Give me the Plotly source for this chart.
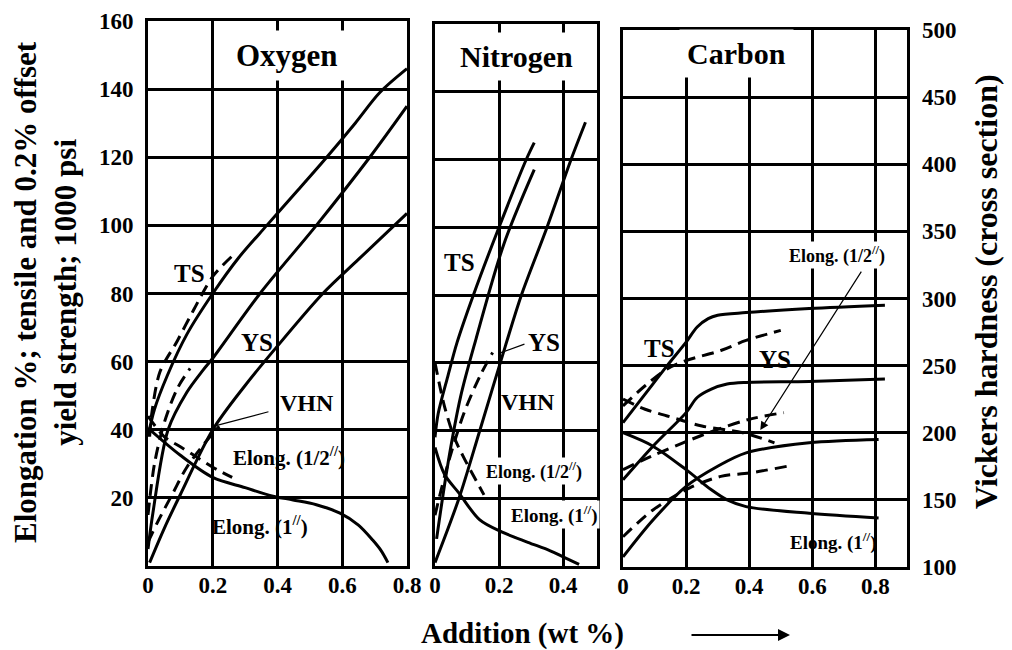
import plotly.graph_objects as go

W, H = 1012, 650
FONT = "Liberation Serif"

# ---------------- data (x = addition, wt %) ----------------
# Strength (1000 psi) / elongation (%) on left scale; VHN in Vickers units (right scale)
# Oxygen
o_ts_x = [0.0, 0.02, 0.06, 0.12, 0.2, 0.28, 0.367, 0.46, 0.552, 0.64, 0.716, 0.8]
o_ts_y = [38, 46, 56, 68, 80, 90.5, 100, 110, 120, 130, 139, 146]
o_tsd_x = [0.005, 0.012, 0.037, 0.09, 0.14, 0.2, 0.26]
o_tsd_y = [38, 45, 57, 66, 75, 85, 91]
o_ys_x = [0.0, 0.015, 0.062, 0.12, 0.17, 0.2, 0.346, 0.52, 0.685, 0.8]
o_ys_y = [5, 15.5, 40, 51, 57.5, 61, 80, 100, 120, 135]
o_ysd_x = [0.0, 0.02, 0.05, 0.09, 0.13]
o_ysd_y = [15, 30, 42, 52, 58]
o_vhn_x = [0.005, 0.05, 0.1, 0.2, 0.3, 0.386, 0.54, 0.65, 0.8]
o_vhn_h = [102.5, 127.5, 152.5, 200, 232.5, 257.5, 300, 325, 358.75]
o_vhnd_x = [0.0, 0.028, 0.077, 0.12, 0.19, 0.22]
o_vhnd_h = [117.5, 131.5, 153.5, 172.5, 194.5, 202.5]
o_elh_x = [0.0, 0.05, 0.1, 0.15, 0.2, 0.26]
o_elh_y = [44, 38, 35, 32, 29, 26]
o_el1_x = [0.0, 0.1, 0.2, 0.3, 0.386, 0.448, 0.52, 0.593, 0.65, 0.694, 0.72, 0.741]
o_el1_y = [40.5, 32.5, 26, 23, 20.5, 19.4, 18, 15.5, 12, 7.6, 4.5, 1]

# Nitrogen
n_ts_x = [0.0, 0.01, 0.04, 0.069, 0.12, 0.2, 0.285, 0.31]
n_ts_y = [38, 45, 56, 66, 80, 100, 120, 125]
n_ys_x = [0.005, 0.04, 0.08, 0.128, 0.215, 0.31]
n_ys_y = [8, 30, 50, 67, 95, 117]
n_ysd_x = [0.0, 0.04, 0.09, 0.14, 0.18]
n_ysd_y = [15, 30, 45, 56, 63]
n_vhn_x = [0.0, 0.075, 0.14, 0.22, 0.27, 0.35, 0.425, 0.47]
n_vhn_h = [102.5, 150, 200, 262.5, 300, 350, 400, 427.5]
n_elh_x = [0.0, 0.03, 0.06, 0.09, 0.153]
n_elh_y = [60, 47, 38, 32, 21]
n_el1_x = [0.0, 0.03, 0.075, 0.14, 0.21, 0.29, 0.36, 0.4, 0.45]
n_el1_y = [35, 27, 21.5, 13.6, 10, 7, 4.5, 2.7, 0.5]

# Carbon
c_ts_x = [0.0, 0.07, 0.14, 0.2, 0.235, 0.27, 0.3, 0.39, 0.59, 0.83]
c_ts_y = [43, 51.5, 60, 67, 71.5, 74, 75, 75.8, 77, 78]
c_tsd_x = [0.0, 0.07, 0.14, 0.2, 0.31, 0.39, 0.5]
c_tsd_y = [48, 54, 59, 61.5, 64.5, 67.5, 70.5]
c_ys_x = [0.0, 0.095, 0.2, 0.235, 0.28, 0.33, 0.39, 0.59, 0.83]
c_ys_y = [26, 36, 46, 50.5, 53, 54.5, 55, 55.3, 56]
c_ysd_x = [0.0, 0.09, 0.19, 0.3, 0.4, 0.51]
c_ysd_y = [29, 33, 37, 41, 44, 46]
c_vhn_x = [0.0, 0.095, 0.2, 0.3, 0.39, 0.59, 0.81]
c_vhn_h = [107.5, 135, 160, 175, 185, 192.5, 195]
c_vhnd_x = [0.0, 0.095, 0.21, 0.31, 0.4, 0.52]
c_vhnd_h = [122.5, 142.5, 158.75, 167.5, 170, 175]
c_elh_x = [0.0, 0.07, 0.14, 0.25, 0.38, 0.48]
c_elh_y = [50, 47, 45, 42, 40, 37]
c_el1_x = [0.0, 0.095, 0.2, 0.28, 0.33, 0.39, 0.59, 0.81]
c_el1_y = [40, 36, 29, 23, 20, 18, 16, 14.6]

left_ticks = [20, 40, 60, 80, 100, 120, 140, 160]
hard_ticks = [100, 150, 200, 250, 300, 350, 400, 450, 500]
o_xticks = [0, 0.2, 0.4, 0.6, 0.8]
n_xticks = [0, 0.2, 0.4]
c_xticks = [0, 0.2, 0.4, 0.6, 0.8]

# ---------------- figure ----------------
fig = go.Figure()

def add(x, y, xa, ya, dash=False, name=""):
    fig.add_trace(go.Scatter(
        x=x, y=y, xaxis=xa, yaxis=ya, mode="lines", name=name,
        line=dict(color="black", width=3, shape="spline", smoothing=0.9,
                  dash="12px,7px" if dash else "solid"),
        showlegend=False, hoverinfo="skip"))

# Oxygen
add(o_ts_x, o_ts_y, "x", "y", name="TS")
add(o_tsd_x, o_tsd_y, "x", "y", True, "TS 1/2")
add(o_ys_x, o_ys_y, "x", "y", name="YS")
add(o_ysd_x, o_ysd_y, "x", "y", True, "YS 1/2")
add(o_vhn_x, o_vhn_h, "x", "y5", name="VHN")
add(o_vhnd_x, o_vhnd_h, "x", "y5", True, "VHN 1/2")
add(o_elh_x, o_elh_y, "x", "y", True, "Elong 1/2")
add(o_el1_x, o_el1_y, "x", "y", name="Elong 1")
# Nitrogen
add(n_ts_x, n_ts_y, "x2", "y2", name="TS")
add(n_ys_x, n_ys_y, "x2", "y2", name="YS")
add(n_ysd_x, n_ysd_y, "x2", "y2", True, "YS 1/2")
add(n_vhn_x, n_vhn_h, "x2", "y6", name="VHN")
add(n_elh_x, n_elh_y, "x2", "y2", True, "Elong 1/2")
add(n_el1_x, n_el1_y, "x2", "y2", name="Elong 1")
# Carbon
add(c_ts_x, c_ts_y, "x3", "y3", name="TS")
add(c_tsd_x, c_tsd_y, "x3", "y3", True, "TS 1/2")
add(c_ys_x, c_ys_y, "x3", "y3", name="YS")
add(c_ysd_x, c_ysd_y, "x3", "y3", True, "YS 1/2")
add(c_vhn_x, c_vhn_h, "x3", "y4", name="VHN")
add(c_vhnd_x, c_vhnd_h, "x3", "y4", True, "VHN 1/2")
add(c_elh_x, c_elh_y, "x3", "y3", True, "Elong 1/2")
add(c_el1_x, c_el1_y, "x3", "y3", name="Elong 1")

def px_x(p):
    return p / W

def px_y(p):
    return 1 - p / H

tickfont = dict(family=FONT, size=23, color="black", weight="bold")

def xax(dom, rng, ticks, anchor):
    return dict(domain=[px_x(dom[0]), px_x(dom[1])], range=rng, anchor=anchor,
                tickvals=ticks, ticktext=[("%g" % t) for t in ticks],
                showgrid=True, gridcolor="black", gridwidth=2.5,
                showline=True, mirror=True, linecolor="black", linewidth=3,
                zeroline=False, ticks="", tickfont=tickfont,
                ticklabelstandoff=-4, automargin=False, fixedrange=True)

def yax(dom, anchor, labels=False):
    d = dict(domain=[px_y(dom[1]), px_y(dom[0])], range=[0, 160], anchor=anchor,
             tickvals=left_ticks, showgrid=True, gridcolor="black", gridwidth=2.5,
             showline=True, mirror=True, linecolor="black", linewidth=3,
             zeroline=False, ticks="", tickfont=tickfont, showticklabels=labels,
             ticklabelstandoff=7, automargin=False, fixedrange=True)
    return d

fig.update_layout(
    width=W, height=H, template="none",
    margin=dict(l=0, r=0, t=0, b=0),
    paper_bgcolor="white", plot_bgcolor="white",
    showlegend=False,
    xaxis=xax((148, 407), [0, 0.8], o_xticks, "y"),
    xaxis2=xax((435, 597), [0, 0.506], n_xticks, "y2"),
    xaxis3=xax((623, 907), [0, 0.9], c_xticks, "y3"),
    yaxis=yax((21, 566), "x", True),
    yaxis2=yax((24, 566), "x2"),
    yaxis3=yax((30, 567), "x3"),
    yaxis4=dict(overlaying="y3", anchor="x3", side="right", range=[100, 500],
                tickvals=hard_ticks, showgrid=False, zeroline=False, ticks="",
                showline=False, tickfont=tickfont, ticklabelstandoff=14,
                automargin=False, fixedrange=True),
    yaxis5=dict(overlaying="y", anchor="x", range=[100, 500], visible=False),
    yaxis6=dict(overlaying="y2", anchor="x2", range=[100, 500], visible=False),
)

def lab(text, x, y, xr, yr, size=22, bold=True, bg=None, pad=1):
    fig.add_annotation(text=text, x=x, y=y, xref=xr, yref=yr, showarrow=False,
                       xanchor="center", yanchor="middle",
                       font=dict(family=FONT, size=size, color="black",
                                 weight="bold" if bold else "normal"),
                       bgcolor=bg if bg else "rgba(0,0,0,0)", borderpad=pad)

# Panel titles
lab("Oxygen", 0.43, 150, "x", "y", 31, bg="white", pad=7)
lab("Nitrogen", 0.256, 150.5, "x2", "y2", 30, bg="white", pad=7)
lab("Carbon", 0.359, 153, "x3", "y3", 30, bg="white", pad=7)

# Oxygen labels
lab("TS", 0.127, 86, "x", "y", 25)
lab("YS", 0.336, 65.7, "x", "y", 25)
lab("VHN", 0.49, 47.8, "x", "y", 24)
lab("Elong. (1/2<sup>//</sup>)", 0.435, 32, "x", "y", 21)
lab("Elong. (1<sup>//</sup>)", 0.346, 12, "x", "y", 21)
fig.add_annotation(x=0.213, y=41.3, xref="x", yref="y", ax=53, ay=-14, text="",
                   showarrow=True, arrowhead=0, arrowwidth=1.2, arrowcolor="black")

# Nitrogen labels
lab("TS", 0.075, 89.7, "x2", "y2", 25)
lab("YS", 0.34, 66, "x2", "y2", 25)
lab("VHN", 0.29, 48.4, "x2", "y2", 24)
lab("Elong. (1/2<sup>//</sup>)", 0.31, 28, "x2", "y2", 18, bg="white")
lab("Elong. (1<sup>//</sup>)", 0.372, 15.3, "x2", "y2", 19, bg="white")
fig.add_annotation(x=0.206, y=63, xref="x2", yref="y2", ax=25, ay=-9, text="",
                   showarrow=True, arrowhead=0, arrowwidth=1.2, arrowcolor="black")

# Carbon labels
lab("TS", 0.117, 65, "x3", "y3", 25)
lab("YS", 0.483, 61.7, "x3", "y3", 25)
lab("Elong. (1/2<sup>//</sup>)", 0.679, 93, "x3", "y3", 18, bg="white")
lab("Elong. (1<sup>//</sup>)", 0.667, 7.7, "x3", "y3", 19)
fig.add_annotation(x=0.435, y=40.8, xref="x3", yref="y3", ax=102, ay=-160, text="",
                   showarrow=True, arrowhead=2, arrowsize=1.4, arrowwidth=1.2,
                   arrowcolor="black")

# Axis titles
fig.add_annotation(text="Elongation %; tensile and 0.2% offset<br>yield strength; 1000 psi",
                   x=px_x(45), y=px_y(292), xref="paper", yref="paper", showarrow=False,
                   xanchor="center", yanchor="middle", textangle=-90,
                   font=dict(family=FONT, size=31, color="black", weight="bold"))
fig.add_annotation(text="Vickers hardness (cross section)",
                   x=px_x(986), y=px_y(292), xref="paper", yref="paper", showarrow=False,
                   xanchor="center", yanchor="middle", textangle=-90,
                   font=dict(family=FONT, size=32, color="black", weight="bold"))
fig.add_annotation(text="Addition (wt %)", x=px_x(522), y=px_y(633), xref="paper", yref="paper",
                   showarrow=False, xanchor="center", yanchor="middle",
                   font=dict(family=FONT, size=29, color="black", weight="bold"))
fig.add_annotation(x=px_x(790), y=px_y(635), xref="paper", yref="paper", ax=-100, ay=0,
                   text="", showarrow=True, arrowhead=2, arrowsize=1.2, arrowwidth=2,
                   arrowcolor="black")

fig.write_html("out.html")
